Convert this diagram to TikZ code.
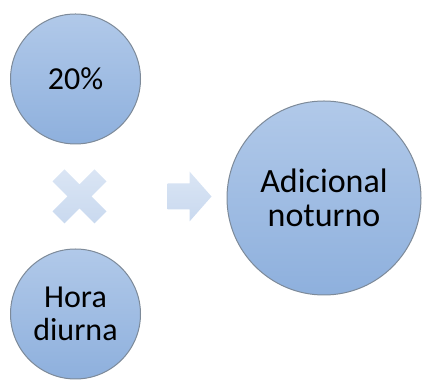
\documentclass[tikz,border=0pt]{standalone}
\usepackage{fontspec}
\setmainfont{Carlito}
\usetikzlibrary{calc}
\usetikzlibrary{positioning}

\definecolor{bubbletop}{HTML}{B1C9E9}
\definecolor{bubblebot}{HTML}{8EB0DD}
\definecolor{bubbleline}{HTML}{7D8A99}
\definecolor{signtop}{HTML}{DAE5F4}
\definecolor{signbot}{HTML}{C9D9EF}

\begin{document}
\begin{tikzpicture}[x=0.5pt,y=-0.5pt,
		bubble/.style={circle,draw=bubbleline,line width=0.5pt,top color=bubbletop,bottom color=bubblebot,
			align=center,inner sep=0pt,minimum size=65pt,font=\fontsize{16}{16.5}\selectfont},
		sign/.style={top color=signtop,bottom color=signbot,draw=none}]
		\useasboundingbox (0,0) rectangle (422,383);
		\node[bubble](P) at (75.5,79){20\%};
		\node[bubble,below=52pt of P](H){Hora\\diurna};
		\node[bubble,minimum size=97pt,font=\fontsize{17}{17}\selectfont](A) at (324,198){Adicional\\noturno};
		\coordinate (T) at ($(P)!0.5!(H) + (4,0)$);
		\coordinate[right=55pt of T](R);
		\shade[sign,shift={(T)}] (-27,-15) -- (-15,-27) -- (0,-12) -- (15,-27) -- (27,-15) -- (12,0)
			-- (27,15) -- (15,27) -- (0,12) -- (-15,27) -- (-27,15) -- (-12,0) -- cycle;
		\shade[sign,shift={(R)}] (-22,-13) -- (0,-13) -- (0,-25) -- (22,0) -- (0,25) -- (0,13) -- (-22,13) -- cycle;
	\end{tikzpicture}
\end{document}
